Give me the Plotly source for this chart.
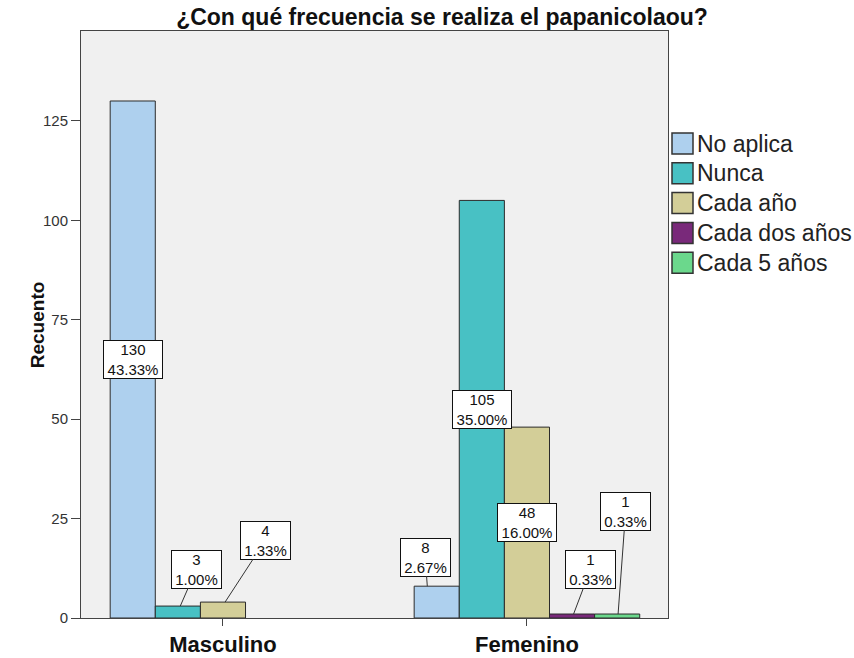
import plotly.graph_objects as go

# ---- data ----
categories = ["Masculino", "Femenino"]
series_names = ["No aplica", "Nunca", "Cada año", "Cada dos años", "Cada 5 años"]
counts = {
    "No aplica": [130, 8],
    "Nunca": [3, 105],
    "Cada año": [4, 48],
    "Cada dos años": [None, 1],
    "Cada 5 años": [None, 1],
}
percents = {
    "No aplica": ["43.33%", "2.67%"],
    "Nunca": ["1.00%", "35.00%"],
    "Cada año": ["1.33%", "16.00%"],
    "Cada dos años": [None, "0.33%"],
    "Cada 5 años": [None, "0.33%"],
}
y_ticks = [0, 25, 50, 75, 100, 125]

# ---- styles ----
colors = ["#AED0EE", "#48C1C4", "#D3CE98", "#79297A", "#6BD88C"]
FONT = "Arial, Liberation Sans, sans-serif"
BARGAP = 0.258
W = (1 - BARGAP) / len(series_names)

# label placement: (series, category index) -> (text dx, text y, arrow dx, inside)
label_pos = {
    ("No aplica", 0): (0.0, None, 0.0, True),
    ("Nunca", 0): (0.061, 12.3, 0.008, False),
    ("Cada año", 0): (0.14, 19.6, 0.007, False),
    ("No aplica", 1): (-0.038, 15.3, -0.031, False),
    ("Nunca", 1): (0.0, None, 0.0, True),
    ("Cada año", 1): (0.0, None, 0.0, True),
    ("Cada dos años", 1): (0.061, 12.3, 0.005, False),
    ("Cada 5 años", 1): (0.028, 26.9, 0.003, False),
}

fig = go.Figure()
for name, col in zip(series_names, colors):
    fig.add_trace(go.Bar(
        x=categories, y=counts[name], name=name,
        marker=dict(color=col, line=dict(color="#2b2b2b", width=1)),
        showlegend=False, hoverinfo="skip",
    ))

annotations = []
for si, name in enumerate(series_names):
    for ci, cat in enumerate(categories):
        v = counts[name][ci]
        if v is None:
            continue
        pct = percents[name][ci]
        txt = f"{v}<br>{pct}"
        xc = ci + (si - (len(series_names) - 1) / 2) * W
        tdx, ty, adx, inside = label_pos[(name, ci)]
        common = dict(text=txt, font=dict(family=FONT, size=15, color="#111"),
                      bgcolor="white", bordercolor="#111", borderwidth=1, borderpad=0,
                      width=9 * len(pct) + 4)
        if inside:
            annotations.append(dict(x=xc, y=v / 2, xref="x", yref="y",
                                    showarrow=False, **common))
        else:
            annotations.append(dict(x=xc + adx, y=v, xref="x", yref="y",
                                    ax=xc + tdx, ay=ty, axref="x", ayref="y",
                                    showarrow=True, arrowhead=0, arrowwidth=1,
                                    arrowcolor="#333", standoff=0, startstandoff=0,
                                    **common))

# y-axis title
annotations.append(dict(text="<b>Recuento</b>", textangle=-90, x=-0.095, y=0.5,
                        xref="paper", yref="paper", showarrow=False,
                        font=dict(family=FONT, size=19, color="#111")))

# manual legend
shapes = []
PH = 587.0
for i, (name, col) in enumerate(zip(series_names, colors)):
    top_px = 133 + 29.8 * i
    y1 = (618 - top_px) / PH
    y0 = (618 - top_px - 21) / PH
    shapes.append(dict(type="rect", xref="paper", yref="paper",
                       x0=(672 - 81) / PH, x1=(693 - 81) / PH, y0=y0, y1=y1,
                       fillcolor=col, line=dict(color="#333", width=1.5)))
    annotations.append(dict(text=name, x=(695 - 81) / PH, y=(y0 + y1) / 2,
                            xref="paper", yref="paper", xanchor="left", yanchor="middle",
                            showarrow=False,
                            font=dict(family=FONT, size=23, color="#222")))

fig.update_layout(
    width=854, height=658,
    margin=dict(l=81, r=186, t=31, b=40, autoexpand=False),
    paper_bgcolor="white", plot_bgcolor="#F0F0F0",
    barmode="group", bargap=BARGAP, bargroupgap=0,
    title=dict(text="<b>¿Con qué frecuencia se realiza el papanicolaou?</b>",
               x=442 / 854, xanchor="center", y=1 - 17 / 658, yanchor="middle",
               xref="container", yref="container",
               font=dict(family=FONT, size=23, color="#111")),
    annotations=annotations, shapes=shapes,
    showlegend=False,
)
fig.update_xaxes(range=[-0.467, 1.464], showline=True, linecolor="#444", linewidth=1,
                 mirror=True, ticks="outside", ticklen=7, tickcolor="#444",
                 tickfont=dict(family=FONT, size=22, color="#111"),
                 tickprefix="<b>", ticksuffix="</b>", showgrid=False, automargin=False)
fig.update_yaxes(range=[0, 147.6], tickvals=y_ticks, showline=True, linecolor="#444",
                 linewidth=1, mirror=True, ticks="outside", ticklen=9, tickcolor="#444",
                 tickfont=dict(family=FONT, size=15, color="#333"), showgrid=False,
                 zeroline=False, automargin=False)

fig.write_html("out.html", config={"displayModeBar": False},
               post_script="document.body.style.margin='0';")
